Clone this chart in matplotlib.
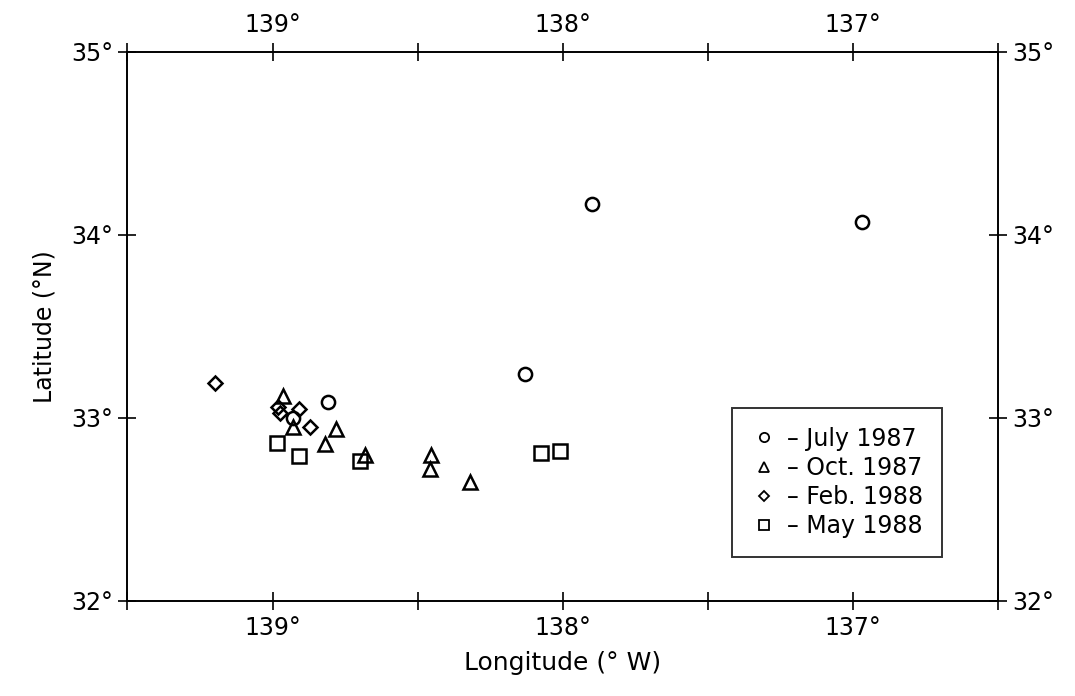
import numpy as np
import matplotlib
matplotlib.use("Agg")
import matplotlib.pyplot as plt
from matplotlib.lines import Line2D

# Station positions per cruise (longitude in degrees W, latitude in degrees N)
jul87_lon = [138.93, 138.81, 138.13, 137.90, 136.97]
jul87_lat = [33.00, 33.09, 33.24, 34.17, 34.07]

oct87_lon = [138.965, 138.93, 138.78, 138.82, 138.68, 138.455, 138.457, 138.32]
oct87_lat = [33.12, 32.95, 32.94, 32.86, 32.80, 32.80, 32.72, 32.65]

feb88_lon = [139.20, 138.98, 138.975, 138.91, 138.87]
feb88_lat = [33.19, 33.06, 33.03, 33.05, 32.95]

may88_lon = [138.985, 138.91, 138.70, 138.075, 138.01]
may88_lat = [32.865, 32.795, 32.765, 32.81, 32.82]

labels = ["July 1987", "Oct. 1987", "Feb. 1988", "May 1988"]
markers = ["o", "^", "D", "s"]
sizes = [9.5, 10, 7.5, 10]

lon_ticks = np.arange(136.5, 139.51, 0.5)
lat_ticks = [32, 33, 34, 35]

plt.rcParams['font.family'] = ['DejaVu Sans']

fig = plt.figure(figsize=(10.75, 6.96), dpi=100)
ax = fig.add_axes([0.1186, 0.1365, 0.8098, 0.7888])

series = [(jul87_lon, jul87_lat), (oct87_lon, oct87_lat),
          (feb88_lon, feb88_lat), (may88_lon, may88_lat)]
for (lon, lat), m, ms in zip(series, markers, sizes):
    ax.plot(lon, lat, linestyle="none", marker=m, markersize=ms,
            markerfacecolor="none", markeredgecolor="black", markeredgewidth=1.8)

ax.set_xlim(139.5, 136.5)
ax.set_ylim(32, 35)

def deg_fmt(v):
    return f"{v:.0f}°" if abs(v - round(v)) < 1e-6 else ""

ax.set_xticks(lon_ticks)
ax.set_xticklabels([deg_fmt(v) for v in lon_ticks])
ax.set_yticks(lat_ticks)
ax.set_yticklabels([deg_fmt(v) for v in lat_ticks])

ax.tick_params(direction="inout", length=13, width=1.2, labelsize=17,
               top=True, right=True, labeltop=True, labelright=True, pad=4)
for s in ax.spines.values():
    s.set_linewidth(1.4)

ax.set_xlabel("Longitude (° W)", fontsize=18, labelpad=8)
ax.set_ylabel("Latitude (°N)", fontsize=17, labelpad=10)

# Legend: small hollow symbol followed by a dash and the cruise date
handles = [Line2D([], [], linestyle="none", marker=m, markersize=ms * 0.7,
                  markerfacecolor="none", markeredgecolor="black", markeredgewidth=1.3)
           for m, ms in zip(markers, sizes)]
leg = ax.legend(handles, ["– " + l for l in labels], loc="lower right",
                bbox_to_anchor=(0.936, 0.08), fontsize=17, frameon=True,
                fancybox=False, edgecolor="black", handlelength=1.1,
                handletextpad=0.45, borderpad=0.8, labelspacing=0.22,
                borderaxespad=0)
leg.get_frame().set_linewidth(1.4)

fig.savefig("out.png", dpi=100, facecolor="white")
